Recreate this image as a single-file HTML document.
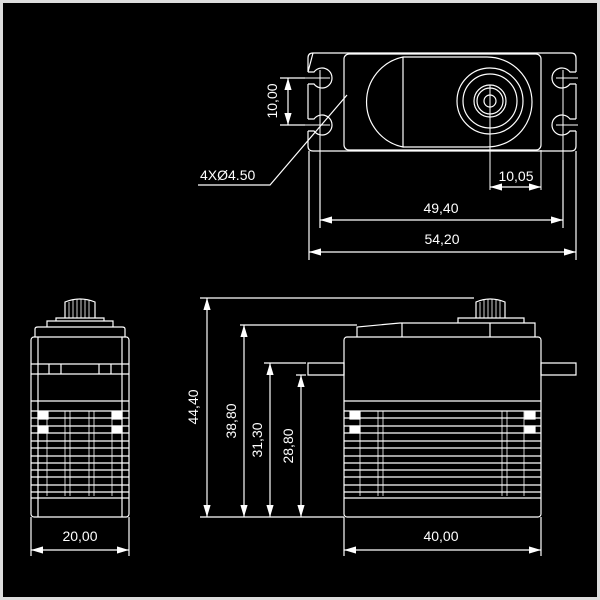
<!DOCTYPE html><html><head><style>body{margin:0;background:#000}svg{display:block}text{font-family:"Liberation Sans",sans-serif;font-size:14px;fill:#fff;stroke:none}</style></head><body>
<svg width="600" height="600" viewBox="0 0 600 600" stroke="#fff" fill="none" stroke-width="1.2">
<defs><marker id="a" viewBox="0 0 10 6" refX="10" refY="3" markerWidth="10" markerHeight="6" orient="auto-start-reverse"><path d="M0,0L10,3L0,6z" fill="#fff" stroke="none"/></marker></defs>
<rect x="1.5" y="1.5" width="597" height="597" stroke="#ddd" stroke-width="3"/>
<path d="M313,53H571Q576,53 576,58V72M576,84V119M576,131V146Q576,151 571,151H313Q308,151 308,146V131M308,119V84M308,72V58Q308,53 313,53Z"/>
<path d="M308,72H314A10,10 0 1 1 314,84H308M308,119H314A10,10 0 1 1 314,131H308"/>
<path d="M576,72H570A10,10 0 1 0 570,84H576M576,119H570A10,10 0 1 0 570,131H576"/>
<rect x="344" y="54" width="197" height="96" rx="5"/>
<path d="M403,57H487A44,44 0 0 1 487,147H403M403,57A46,46 0 0 0 403,147V57"/>
<circle cx="490" cy="101" r="33"/><circle cx="490" cy="101" r="27"/><circle cx="490" cy="101" r="16"/><circle cx="490" cy="101" r="13"/><circle cx="490" cy="101" r="6"/>
<path d="M320,70V160M563,70V160M490,85V190M541,150V190M578,78H556M578,125H556M300,78H330M300,125H330" stroke-width="1"/>
<path d="M288,78V125" marker-start="url(#a)" marker-end="url(#a)"/>
<path d="M280,78H305M280,125H305"/>
<text transform="translate(277,101) rotate(-90)" text-anchor="middle">10,00</text>
<path d="M198,185H270L347,95"/>
<text x="200" y="180">4XØ4.50</text>
<path d="M490,187H541" marker-start="url(#a)" marker-end="url(#a)"/><text x="516" y="181" text-anchor="middle">10,05</text>
<path d="M320,160V228M563,160V228M309,151V260M576,151V260"/>
<path d="M320,220H563" marker-start="url(#a)" marker-end="url(#a)"/><text x="441" y="213" text-anchor="middle">49,40</text>
<path d="M309,252H576" marker-start="url(#a)" marker-end="url(#a)"/><text x="442" y="244" text-anchor="middle">54,20</text>
<rect x="344" y="337" width="197" height="180" rx="3"/>
<path d="M308,363H344V375H308ZM541,363H576V375H541Z"/>
<path d="M357,337V327L400,323H535V337M402,323V337M490,323V337M458,323V318H524V323M476,318V302Q490,296 505,302V318"/>
<path d="M480,302V318M484,300V318M488,299V318M492,299V318M496,300V318M500,301V318" stroke-width="0.8"/>
<path d="M344,401H541M344,411H541M344,418H541M344,426H541M344,433H541M344,441H541M344,448H541M344,456H541M344,463H541M344,470H541M344,477H541M344,485H541M344,492H541M344,498H541"/>
<path d="M378,411V496M383,411V496M502,411V496M507,411V496M360,411V496M524,411V496" stroke-width="0.8"/>
<rect x="350" y="412" width="10" height="7" fill="#fff"/><rect x="350" y="426" width="10" height="7" fill="#fff"/><rect x="525" y="412" width="10" height="7" fill="#fff"/><rect x="525" y="426" width="10" height="7" fill="#fff"/>
<path d="M344,517V556M541,517V556"/>
<path d="M344,550H541" marker-start="url(#a)" marker-end="url(#a)"/><text x="441" y="541" text-anchor="middle">40,00</text>
<path d="M200,298H474M240,325H357M264,363H306M296,375H306M200,517H344"/>
<path d="M207,298V517" marker-start="url(#a)" marker-end="url(#a)"/><text transform="translate(198,407) rotate(-90)" text-anchor="middle">44,40</text>
<path d="M244,325V517" marker-start="url(#a)" marker-end="url(#a)"/><text transform="translate(236,421) rotate(-90)" text-anchor="middle">38,80</text>
<path d="M270,363V517" marker-start="url(#a)" marker-end="url(#a)"/><text transform="translate(262,440) rotate(-90)" text-anchor="middle">31,30</text>
<path d="M301,375V517" marker-start="url(#a)" marker-end="url(#a)"/><text transform="translate(293,446) rotate(-90)" text-anchor="middle">28,80</text>
<rect x="31" y="337" width="98" height="180" rx="3"/>
<path d="M38,337V517M122,337V517"/>
<path d="M35,337V329Q35,327 38,327H122Q125,327 125,329V337M47,327V321H113V327M56,321V318H104V321M65,318V302Q80,296 95,302V318"/>
<path d="M69,302V318M73,300V318M77,299V318M81,299V318M85,299V318M89,300V318" stroke-width="0.8"/>
<path d="M31,364H129M31,374H129M49,364V374M61,364V374M99,364V374M111,364V374"/>
<path d="M31,401H129M31,411H129M31,418H129M31,426H129M31,433H129M31,441H129M31,448H129M31,456H129M31,463H129M31,470H129M31,477H129M31,485H129M31,492H129M31,498H129"/>
<path d="M47,411V496M65,411V496M70,411V496M89,411V496M94,411V496M112,411V496" stroke-width="0.8"/>
<rect x="38" y="412" width="10" height="7" fill="#fff"/><rect x="38" y="426" width="10" height="7" fill="#fff"/><rect x="112" y="412" width="10" height="7" fill="#fff"/><rect x="112" y="426" width="10" height="7" fill="#fff"/>
<path d="M31,517V556M129,517V556"/>
<path d="M31,550H129" marker-start="url(#a)" marker-end="url(#a)"/><text x="80" y="541" text-anchor="middle">20,00</text>
</svg></body></html>
